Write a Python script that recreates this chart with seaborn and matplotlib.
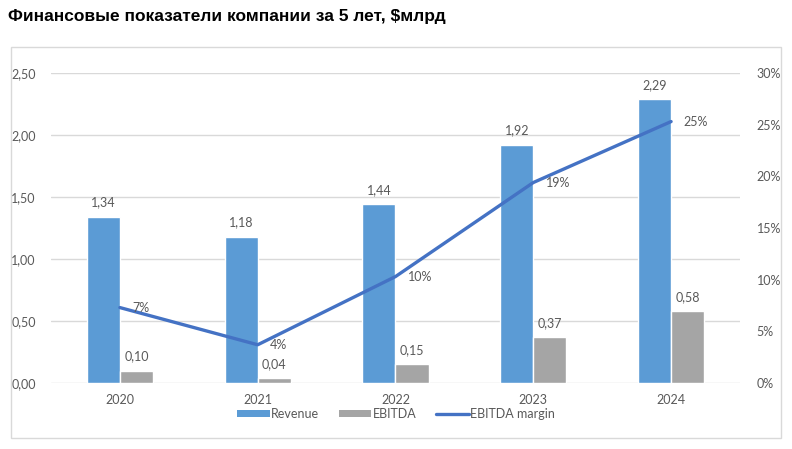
import matplotlib
matplotlib.use("Agg")
import matplotlib.pyplot as plt
import seaborn as sns
import pandas as pd
import numpy as np
from matplotlib.patches import Rectangle, Patch
from matplotlib.lines import Line2D
from matplotlib.ticker import FuncFormatter

years = ["2020", "2021", "2022", "2023", "2024"]
revenue = [1.34, 1.18, 1.44, 1.92, 2.29]
ebitda = [0.10, 0.04, 0.15, 0.37, 0.58]
margin = [0.073, 0.037, 0.103, 0.194, 0.253]
margin_labels = ["7%", "4%", "10%", "19%", "25%"]
left_ticks = [0, 0.5, 1.0, 1.5, 2.0, 2.5]
right_ticks = [0, 0.05, 0.10, 0.15, 0.20, 0.25, 0.30]

sns.set_style("white")
plt.rcParams['font.family'] = ['Lato', 'DejaVu Sans']

C_REV = "#5B9BD5"
C_EB = "#A5A5A5"
C_LINE = "#4472C4"
TXT = "#595959"
GRID = "#D9D9D9"

df = pd.DataFrame({
    "year": years * 2,
    "value": revenue + ebitda,
    "series": ["Revenue"] * len(years) + ["EBITDA"] * len(years),
})

fig = plt.figure(figsize=(7.92, 4.49), dpi=100)
ax = fig.add_axes([51 / 792, 1 - 383 / 449, 689 / 792, 310 / 449])

sns.barplot(data=df, x="year", y="value", hue="series", order=years,
            hue_order=["Revenue", "EBITDA"], palette=[C_REV, C_EB],
            width=0.48, gap=0, ax=ax, legend=False, saturation=1)

ax.set_xlim(-0.5, len(years) - 0.5)
ax.set_ylim(0, 2.5)
ax.set_yticks(left_ticks)
ax.yaxis.set_major_formatter(FuncFormatter(lambda v, p: f"{v:.2f}".replace(".", ",")))
ax.grid(axis="y", color=GRID, linewidth=1)
ax.set_axisbelow(True)
for s in ax.spines.values():
    s.set_visible(False)
ax.tick_params(axis="y", length=0, pad=11, labelsize=9, labelcolor=TXT)
ax.tick_params(axis="x", length=0, pad=8, labelsize=9, labelcolor=TXT)
ax.set_xlabel("")
ax.set_ylabel("")

for cont, vals in zip(ax.containers, [revenue, ebitda]):
    ax.bar_label(cont, labels=[f"{v:.2f}".replace(".", ",") for v in vals],
                 padding=6, fontsize=9, color=TXT)

ax2 = ax.twinx()
sns.lineplot(x=np.arange(len(years)), y=margin, color=C_LINE, linewidth=2.4,
             ax=ax2, legend=False)
ax2.set_ylim(0, 0.30)
ax2.set_yticks(right_ticks)
ax2.yaxis.set_major_formatter(FuncFormatter(lambda v, p: f"{v*100:.0f}%"))
ax2.tick_params(axis="y", length=0, pad=12, labelsize=9, labelcolor=TXT)
for s in ax2.spines.values():
    s.set_visible(False)
ax2.set_ylabel("")
for i, (m, lab) in enumerate(zip(margin, margin_labels)):
    ax2.annotate(lab, (i, m), xytext=(9, 0), textcoords="offset points",
                 ha="left", va="center", fontsize=9, color=TXT)

handles = [Patch(facecolor=C_REV, edgecolor="none"),
           Patch(facecolor=C_EB, edgecolor="none"),
           Line2D([0], [0], color=C_LINE, linewidth=2.4)]
fig.legend(handles, ["Revenue", "EBITDA", "EBITDA margin"], loc="center",
           bbox_to_anchor=(0.5, 1 - 414 / 449), ncol=3, frameon=False,
           fontsize=9, labelcolor=TXT, handlelength=2.6, handleheight=0.5,
           columnspacing=1.6, handletextpad=0.1)

fig.patches.append(Rectangle((11 / 792, 1 - 438 / 449), 770 / 792, 391 / 449,
                             transform=fig.transFigure, fill=False,
                             edgecolor=GRID, linewidth=1))

fig.text(8 / 792, 1 - 17 / 449, "Финансовые показатели компании за 5 лет, $млрд",
         fontsize=12.5, fontweight="bold", family=["Liberation Sans", "DejaVu Sans"],
         ha="left", va="center", color="black")

fig.savefig("out.png", dpi=100)
